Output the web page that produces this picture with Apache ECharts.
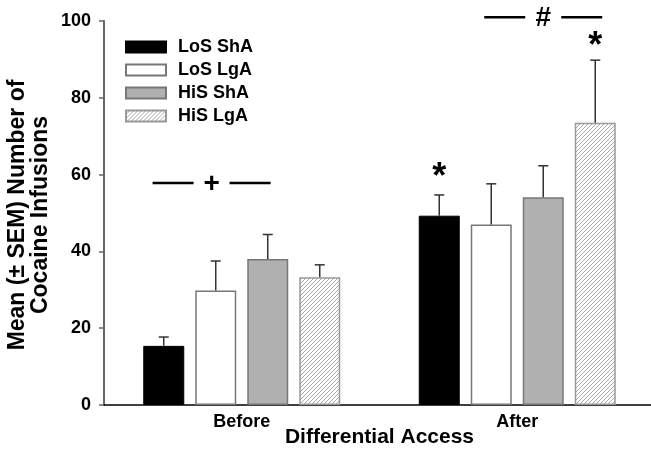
<!DOCTYPE html>
<html>
<head>
<meta charset="utf-8">
<script src="https://cdn.jsdelivr.net/npm/echarts@6/dist/echarts.min.js"></script>
<style>
  html, body { margin: 0; padding: 0; background: #fff; }
  #chart { width: 651px; height: 456px; }
</style>
</head>
<body>
<div id="chart"></div>
<script>
// categories and groups
const categories = ['Before', 'After']
const groupNames = ['LoS ShA', 'LoS LgA', 'HiS ShA', 'HiS LgA']

// means, per group, in category order
const losSha = [15.4, 49.3]
const losLga = [29.8, 47.0]
const hisSha = [38.0, 54.1]
const hisLga = [33.3, 73.5]

// mean + SEM (top of error bar)
const losShaTop = [17.7, 54.7]
const losLgaTop = [37.5, 57.6]
const hisShaTop = [44.4, 62.3]
const hisLgaTop = [36.5, 89.8]

const yTicks = [0, 20, 40, 60, 80, 100]

// significance marks: [category, group, height]
const stars = [[1, 0, 60.7], [1, 3, 94.9]]
// group comparison brackets: [category, height, symbol]
const brackets = [[0, 57.8, '+'], [1, 101, '#']]

const means = [losSha, losLga, hisSha, hisLga]
const tops = [losShaTop, losLgaTop, hisShaTop, hisLgaTop]

const barW = 41
const gapPx = 11
const bracketShift = [-0.58, 0.5]  // in bar slots from group centre

// diagonal hatch for HiS LgA
function hatch() {
  const c = document.createElement('canvas')
  c.width = 4
  c.height = 4
  const g = c.getContext('2d')
  g.fillStyle = '#fff'
  g.fillRect(0, 0, 4, 4)
  g.strokeStyle = '#a8a8a8'
  g.lineWidth = 1
  g.beginPath()
  g.moveTo(-1, 5); g.lineTo(5, -1)
  g.stroke()
  return c
}

const styles = [
  { color: '#000', borderColor: '#000', borderWidth: 1 },
  { color: '#fff', borderColor: '#777', borderWidth: 1.5 },
  { color: '#b0b0b0', borderColor: '#777', borderWidth: 1.5 },
  { color: { image: hatch(), repeat: 'repeat' }, borderColor: '#999', borderWidth: 1.5 }
]

const barSeries = groupNames.map((name, i) => ({
  name: name,
  type: 'bar',
  barWidth: barW,
  barGap: (gapPx / barW * 100) + '%',
  itemStyle: styles[i],
  data: means[i],
  z: 2
}))

// error bars (upper only, with cap)
const errData = []
means.forEach((m, i) => {
  m.forEach((v, c) => errData.push([c, i, v, tops[i][c]]))
})

function slotOffset(i) {
  return (i - 1.5) * (barW + gapPx)
}

const errSeries = {
  type: 'custom',
  data: errData,
  z: 3,
  silent: true,
  renderItem: function (params, api) {
    const c = api.value(0)
    const i = api.value(1)
    const lo = api.coord([c, api.value(2)])
    const hi = api.coord([c, api.value(3)])
    const x = lo[0] + slotOffset(i)
    const st = { stroke: '#333', lineWidth: 1.5 }
    return {
      type: 'group',
      children: [
        { type: 'line', shape: { x1: x, y1: lo[1], x2: x, y2: hi[1] }, style: st },
        { type: 'line', shape: { x1: x - 5, y1: hi[1], x2: x + 5, y2: hi[1] }, style: st }
      ]
    }
  }
}

const annoSeries = {
  type: 'custom',
  data: [0],
  z: 4,
  silent: true,
  renderItem: function (params, api) {
    const kids = []
    brackets.forEach((b, k) => {
      const p = api.coord([b[0], b[1]])
      const cx = p[0] + bracketShift[k] * (barW + gapPx)
      const st = { stroke: '#000', lineWidth: 2.5 }
      kids.push({ type: 'line', shape: { x1: cx - 59, y1: p[1], x2: cx - 18, y2: p[1] }, style: st })
      kids.push({ type: 'line', shape: { x1: cx + 18, y1: p[1], x2: cx + 59, y2: p[1] }, style: st })
      kids.push({ type: 'text', style: { text: b[2], x: cx, y: p[1] + 1, textAlign: 'center', textVerticalAlign: 'middle', fontFamily: 'Liberation Sans', fontWeight: 'bold', fontSize: 28, fill: '#000' } })
    })
    stars.forEach(s => {
      const p = api.coord([s[0], s[2]])
      const x = p[0] + slotOffset(s[1])
      kids.push({ type: 'text', style: { text: '*', x: x, y: p[1] + 6, textAlign: 'center', textVerticalAlign: 'middle', fontFamily: 'Liberation Sans', fontWeight: 'bold', fontSize: 36, fill: '#000' } })
    })
    return { type: 'group', children: kids }
  }
}

const chart = echarts.init(document.getElementById('chart'))
chart.setOption({
  animation: false,
  backgroundColor: '#fff',
  textStyle: { fontFamily: 'Liberation Sans' },
  grid: { left: 104, top: 21, width: 551, height: 384, outerBoundsMode: 'none', containLabel: false },
  legend: {
    orient: 'vertical',
    left: 120,
    top: 33,
    itemWidth: 40,
    itemHeight: 11,
    itemGap: 5,
    icon: 'rect',
    data: groupNames,
    textStyle: { fontSize: 18, fontWeight: 'bold', color: '#000', padding: [0, 0, 0, 7] }
  },
  xAxis: {
    type: 'category',
    data: categories,
    name: 'Differential Access',
    nameLocation: 'middle',
    nameGap: 22,
    nameMoveOverlap: false,
    nameTextStyle: { fontSize: 21, fontWeight: 'bold', color: '#000' },
    axisLine: { lineStyle: { color: '#000', width: 1.5 } },
    axisTick: { show: false },
    axisLabel: { fontSize: 18, fontWeight: 'bold', color: '#000', margin: 8 }
  },
  yAxis: {
    type: 'value',
    min: yTicks[0],
    max: yTicks[yTicks.length - 1],
    interval: 20,
    axisLine: { show: true, lineStyle: { color: '#666', width: 2 } },
    axisTick: { show: true, length: 5, lineStyle: { color: '#666', width: 1.5 } },
    splitLine: { show: false },
    axisLabel: { fontSize: 18, fontWeight: 'bold', color: '#000', margin: 13 }
  },
  graphic: [{
    type: 'text',
    x: 29,
    y: 215,
    rotation: Math.PI / 2,
    style: {
      text: 'Mean (± SEM) Number of\nCocaine Infusions',
      textAlign: 'center',
      textVerticalAlign: 'middle',
      lineHeight: 23,
      fontFamily: 'Liberation Sans',
      fontWeight: 'bold',
      fontSize: 23,
      fill: '#000'
    }
  }],
  series: barSeries.concat([errSeries, annoSeries])
})
</script>
</body>
</html>
